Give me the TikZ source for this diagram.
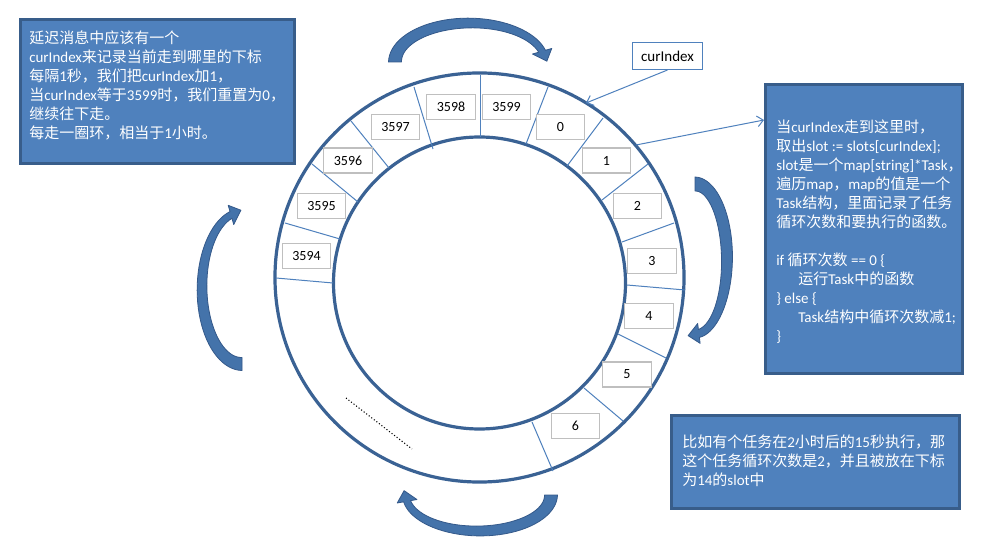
\documentclass[tikz,border=0pt]{standalone}
\usepackage{fontspec}
\setmainfont{Carlito}
\newfontfamily\zh{Noto Sans CJK SC}
\newcommand\hz[1]{{\zh #1}}
\usetikzlibrary{calc,arrows.meta}
\definecolor{boxblue}{HTML}{4F81BD}
\definecolor{boxedge}{HTML}{385D8A}
\definecolor{ringcol}{HTML}{3A6294}
\definecolor{slotgray}{HTML}{BFBFBF}
\definecolor{arrowfill}{HTML}{4473AA}
\definecolor{arrowedge}{HTML}{34598A}
\tikzset{
 infobox/.style={draw=boxedge, fill=boxblue, line width=2.25pt, inner sep=0pt},
 infotext/.style={text=white, align=left, anchor=north west, inner sep=0pt, font=\fontsize{11.25pt}{14.25pt}\selectfont},
 slotbox/.style={draw=slotgray, fill=white, line width=0.9pt, minimum width=36.5pt, minimum height=18.75pt, inner sep=0pt, font=\fontsize{10.5pt}{12pt}\selectfont},
 ringline/.style={draw=ringcol, line width=2.4pt},
 spoke/.style={draw=boxblue, line width=0.75pt},
 pointer/.style={draw=boxblue, line width=0.75pt, -{Straight Barb[length=4.5pt,width=8pt]}},
 arrowshape/.style={fill=arrowfill, draw=arrowedge, line width=0.6pt, line join=round},
}
% curved block arrow: cx, cy, rx, ry, start angle (tail), end angle (head), tail width, head-end width
\newcommand\blockarrow[8]{%
  \pgfmathsetmacro\baTq{#6+((#6>#5)?4:-4)}%
  \pgfmathsetmacro\baWa{#7/2}%
  \pgfmathsetmacro\baWb{#8/2}%
  \coordinate (baP) at ({#1+#3*cos(#6)},{#2+#4*sin(#6)});
  \coordinate (baQ) at ({#1+#3*cos(\baTq)},{#2+#4*sin(\baTq)});
  \coordinate (baO) at ({#1+(#3+\baWb)*cos(#6)},{#2+(#4+\baWb)*sin(#6)});
  \coordinate (baI) at ({#1+(#3-\baWb)*cos(#6)},{#2+(#4-\baWb)*sin(#6)});
  \filldraw[arrowshape] plot[domain=#5:#6,samples=40,variable=\t]
     ({#1+(#3+\baWa+(\baWb-\baWa)*(\t-#5)/(#6-#5))*cos(\t)},{#2+(#4+\baWa+(\baWb-\baWa)*(\t-#5)/(#6-#5))*sin(\t)})
     -- ($(baP)!7.5pt!(baO)$) -- ($(baP)!8.25pt!(baQ)$) -- ($(baP)!7.5pt!(baI)$)
     -- plot[domain=#6:#5,samples=40,variable=\t]
     ({#1+(#3-\baWa-(\baWb-\baWa)*(\t-#5)/(#6-#5))*cos(\t)},{#2+(#4-\baWa-(\baWb-\baWa)*(\t-#5)/(#6-#5))*sin(\t)})
     -- cycle;
}
\begin{document}
\begin{tikzpicture}[x=0.75pt,y=-0.75pt]
\fill[white] (0,0) rectangle (1007,552);
\useasboundingbox (0,0) rectangle (1007,552);

% ring
\draw[ringline] (479.5,277.5) circle[radius=153.4pt];
\draw[ringline] (479.5,283) circle[radius=109.5pt];

% spokes
\draw[spoke] (480,75) -- (480,137);
\draw[spoke] (414,87) -- (433,149);
\draw[spoke] (351,121) -- (389,168);
\draw[spoke] (312,164) -- (358,202);
\draw[spoke] (285,223) -- (340,239);
\draw[spoke] (276,278) -- (333,283);
\draw[spoke] (548,87) -- (526,144);
\draw[spoke] (603,118) -- (567,166);
\draw[spoke] (648,164) -- (602,200);
\draw[spoke] (674,223) -- (622,242);
\draw[spoke] (685,290) -- (627,285);
\draw[spoke] (618,334) -- (666,358);
\draw[spoke] (584,388) -- (623,421);
\draw[spoke] (532,422) -- (553,471);

% slots
\node[slotbox] (s3598) at (451,107) {3598};
\node[slotbox] (s3599) at (506.5,107) {3599};
\node[slotbox] (s0) at (560.5,127) {0};
\node[slotbox] (s1) at (606.5,160.5) {1};
\node[slotbox] (s2) at (637.5,206) {2};
\node[slotbox] (s3) at (652,261) {3};
\node[slotbox] (s4) at (649,316) {4};
\node[slotbox] (s5) at (627,374.5) {5};
\node[slotbox] (s6) at (575.5,426) {6};
\node[slotbox] (s3597) at (395.5,127) {3597};
\node[slotbox] (s3596) at (348,160.5) {3596};
\node[slotbox] (s3595) at (321.5,206) {3595};
\node[slotbox] (s3594) at (306.5,256) {3594};

% dots
\draw[black, line width=0.8pt, dash pattern=on 0.8pt off 1.6pt] (346,398) -- (412,449);

% curved arrows
\blockarrow{470}{62}{75}{39}{180}{344}{13}{7}
\blockarrow{242}{288}{40}{76}{90}{254}{13}{7}
\blockarrow{695}{259}{32}{75}{270}{443}{14}{8}
\blockarrow{478.5}{495}{72.5}{36}{0}{170}{13}{7}

% info boxes
\node[infobox, minimum width=205.5pt, minimum height=108pt] (box1) at (157,91.5) {};
\node[infobox, minimum width=147.75pt, minimum height=216.75pt] (box2) at (864,229) {};
\node[infobox, minimum width=216pt, minimum height=69.75pt] (box3) at (815.5,462) {};

\node[infotext] (t1) at (29,30) {\hz{延迟消息中应该有一个}\\
curIndex\hz{来记录当前走到哪里的下标}\\
\hz{每隔}1\hz{秒，我们把}curIndex\hz{加}1\hz{，}\\
\hz{当}curIndex\hz{等于}3599\hz{时，我们重置为}0\hz{，}\\
\hz{继续往下走。}\\
\hz{每走一圈环，相当于}1\hz{小时。}};

\node[infotext] (t2) at (776,120) {\hz{当}curIndex\hz{走到这里时，}\\
\hz{取出}slot := slots[curIndex];\\
slot\hz{是一个}map[string]*Task\hz{，}\\
\hz{遍历}map\hz{，}map\hz{的值是一个}\\
Task\hz{结构，里面记录了任务}\\
\hz{循环次数和要执行的函数。}\\[14.25pt]
if \hz{循环次数} == 0 \{\\
\hspace*{16.5pt}\hz{运行}Task\hz{中的函数}\\
\} else \{\\
\hspace*{16.5pt}Task\hz{结构中循环次数减}1;\\
\}};

\node[infotext] (t3) at (682,435) {\hz{比如有个任务在}2\hz{小时后的}15\hz{秒执行，那}\\
\hz{这个任务循环次数是}2\hz{，并且被放在下标}\\
\hz{为}14\hz{的}slot\hz{中}};

% curIndex pointer
\node[draw=boxblue, line width=0.75pt, fill=white, minimum width=52.5pt, minimum height=20.25pt, inner sep=0pt, font=\fontsize{11.25pt}{13pt}\selectfont] (cur) at (667.5,56) {curIndex};
\coordinate (curtip) at (586,103);
\draw[pointer] (cur.south) -- (curtip);
\coordinate (slotpt) at (636,145);
\draw[pointer] (slotpt) -- ($(box2.north west)+(0,37)$);
\end{tikzpicture}
\end{document}
